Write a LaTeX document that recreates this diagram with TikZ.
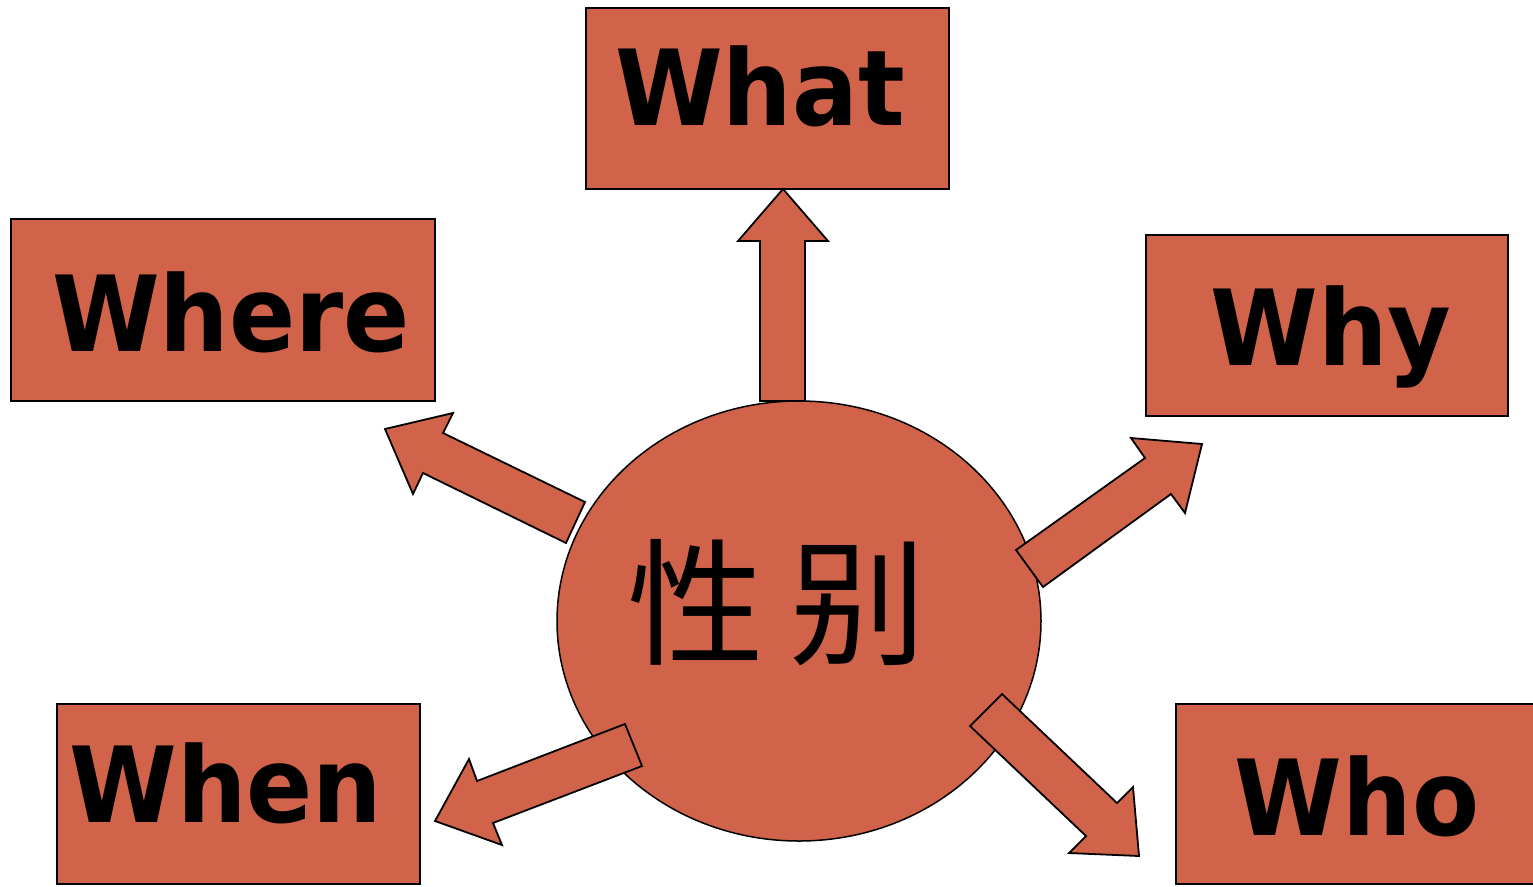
\documentclass[tikz,border=0pt]{standalone}
\usepackage{fontspec}
\newfontfamily\lab[FakeStretch=0.93]{DejaVu Sans Bold}
\newfontfamily\cjk{Noto Sans CJK SC}
\definecolor{brick}{RGB}{208,99,74}
\begin{document}
\begin{tikzpicture}[x=1pt,y=-1pt,
  box/.style={draw=black,line width=2pt,fill=brick},
  blk/.style={draw=black,line width=1.8pt,fill=brick,line join=miter},
  word/.style={inner sep=0pt,anchor=base,font=\lab\fontsize{105}{105}\selectfont}]
\useasboundingbox (0,0) rectangle (1533,886);
% boxes
\path[box] (586,8) rectangle (949,189);
\path[box] (11,219) rectangle (435,401);
\path[box] (1146,235) rectangle (1508,416);
\path[box] (57,704) rectangle (420,884);
\path[box] (1176,704) rectangle (1540,884);
\node[word] (what) at (760,125) {What};
\node[word] (where) at (231,351) {Where};
\node[word] (why) at (1331,365) {Why};
\node[word] (when) at (226,822) {When};
\node[word] (who) at (1357,835) {Who};
% centre ellipse
\draw[fill=brick,line width=1.5pt] (799,621) ellipse [x radius=242,y radius=220];
\node[inner sep=0pt,font=\cjk\fontsize{137}{137}\selectfont] (sex) at (777,603) {性\kern26pt别};
% block arrows
\path[blk] (760,401) -- (760,241) -- (738,241) -- (783,189) -- (828,241) -- (805,241) -- (805,401) -- cycle;
\path[blk] (585,502) -- (443,433) -- (453,413) -- (385,429) -- (413,494) -- (423,473) -- (566,543) -- cycle;
\path[blk] (1016,550) -- (1145,458) -- (1131,438) -- (1202,444) -- (1185,513) -- (1171,494) -- (1043,587) -- cycle;
\path[blk] (1002,694) -- (1117,803) -- (1133,787) -- (1139,856) -- (1069,853) -- (1086,836) -- (970,726) -- cycle;
\path[blk] (625,724) -- (477,781) -- (469,759) -- (435,821) -- (502,845) -- (493,823) -- (642,766) -- cycle;
\end{tikzpicture}
\end{document}
